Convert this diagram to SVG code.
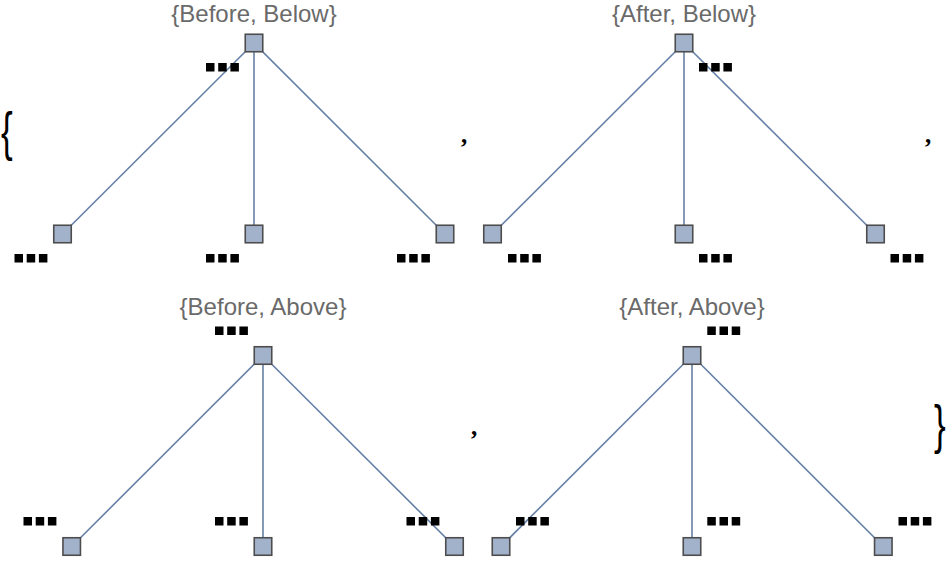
<svg xmlns="http://www.w3.org/2000/svg" xmlns:xlink="http://www.w3.org/1999/xlink" width="951" height="567" viewBox="0 0 951 567">
<style>
.edge{stroke:#6580a6;stroke-width:1.6;fill:none}
.node{fill:#a3b2cb;stroke:#4d4d4d;stroke-width:1.6}
.title{font-family:"Liberation Sans",Arial,sans-serif;font-size:24px;fill:#6a6a6a;text-anchor:middle}
.punct{font-family:"Liberation Serif","Times New Roman",serif;font-weight:bold;fill:#000}
.brace{font-family:"Liberation Sans",Arial,sans-serif;fill:#000}
</style>
<defs>
<g id="dots">
<rect x="0" y="0" width="8.5" height="8.5" fill="#000"/>
<rect x="12.2" y="0" width="8.5" height="8.5" fill="#000"/>
<rect x="24.4" y="0" width="8.5" height="8.5" fill="#000"/>
</g>
</defs>
<rect width="951" height="567" fill="#fff"/>

<text class="brace" font-size="54" transform="translate(1,150) scale(0.65,1)">{</text>
<text class="brace" font-size="54" transform="translate(934,443) scale(0.65,1)">}</text>
<text class="punct" font-size="25" x="461" y="143">,</text>
<text class="punct" font-size="25" x="925" y="143">,</text>
<text class="punct" font-size="25" x="471" y="435">,</text>

<g id="connectors">
<line class="edge" x1="254" y1="43" x2="62.5" y2="234"/>
<line class="edge" x1="254" y1="43" x2="254" y2="234"/>
<line class="edge" x1="254" y1="43" x2="445" y2="234"/>
<line class="edge" x1="684" y1="43" x2="492.5" y2="234"/>
<line class="edge" x1="684" y1="43" x2="684" y2="234"/>
<line class="edge" x1="684" y1="43" x2="875.5" y2="234"/>
<line class="edge" x1="263" y1="355.5" x2="71.7" y2="546.5"/>
<line class="edge" x1="263" y1="355.5" x2="263" y2="546.5"/>
<line class="edge" x1="263" y1="355.5" x2="454.5" y2="546.5"/>
<line class="edge" x1="692" y1="355.5" x2="501" y2="546.5"/>
<line class="edge" x1="692" y1="355.5" x2="692" y2="546.5"/>
<line class="edge" x1="692" y1="355.5" x2="883.3" y2="546.5"/>
</g>

<text class="title" x="254" y="22">{Before, Below}</text>
<text class="title" x="684" y="22">{After, Below}</text>
<text class="title" x="263" y="315">{Before, Above}</text>
<text class="title" x="692" y="315">{After, Above}</text>

<g id="tl-root"><rect class="node" x="245.25" y="34.25" width="17.5" height="17.5"/><use xlink:href="#dots" x="206" y="63"/></g>
<g id="tl-leaf1"><rect class="node" x="53.75" y="225.25" width="17.5" height="17.5"/><use xlink:href="#dots" x="14.5" y="254"/></g>
<g id="tl-leaf2"><rect class="node" x="245.25" y="225.25" width="17.5" height="17.5"/><use xlink:href="#dots" x="206" y="254"/></g>
<g id="tl-leaf3"><rect class="node" x="436.25" y="225.25" width="17.5" height="17.5"/><use xlink:href="#dots" x="397" y="254"/></g>

<g id="tr-root"><rect class="node" x="675.25" y="34.25" width="17.5" height="17.5"/><use xlink:href="#dots" x="699" y="63"/></g>
<g id="tr-leaf1"><rect class="node" x="483.75" y="225.25" width="17.5" height="17.5"/><use xlink:href="#dots" x="508" y="254"/></g>
<g id="tr-leaf2"><rect class="node" x="675.25" y="225.25" width="17.5" height="17.5"/><use xlink:href="#dots" x="699" y="254"/></g>
<g id="tr-leaf3"><rect class="node" x="866.75" y="225.25" width="17.5" height="17.5"/><use xlink:href="#dots" x="890.5" y="254"/></g>

<g id="bl-root"><rect class="node" x="254.25" y="346.75" width="17.5" height="17.5"/><use xlink:href="#dots" x="215" y="326.5"/></g>
<g id="bl-leaf1"><rect class="node" x="62.95" y="537.75" width="17.5" height="17.5"/><use xlink:href="#dots" x="23.5" y="517"/></g>
<g id="bl-leaf2"><rect class="node" x="254.25" y="537.75" width="17.5" height="17.5"/><use xlink:href="#dots" x="215" y="517"/></g>
<g id="bl-leaf3"><rect class="node" x="445.75" y="537.75" width="17.5" height="17.5"/><use xlink:href="#dots" x="406.5" y="517"/></g>

<g id="br-root"><rect class="node" x="683.25" y="346.75" width="17.5" height="17.5"/><use xlink:href="#dots" x="707.3" y="326.5"/></g>
<g id="br-leaf1"><rect class="node" x="492.25" y="537.75" width="17.5" height="17.5"/><use xlink:href="#dots" x="516" y="517"/></g>
<g id="br-leaf2"><rect class="node" x="683.25" y="537.75" width="17.5" height="17.5"/><use xlink:href="#dots" x="707.3" y="517"/></g>
<g id="br-leaf3"><rect class="node" x="874.55" y="537.75" width="17.5" height="17.5"/><use xlink:href="#dots" x="898.5" y="517"/></g>
</svg>
